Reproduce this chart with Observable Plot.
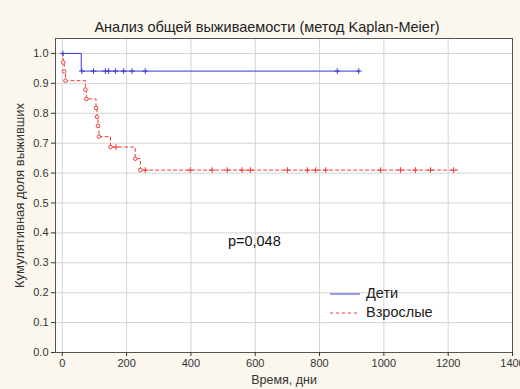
<!DOCTYPE html>
<html><head><meta charset="utf-8">
<script src="https://cdn.jsdelivr.net/npm/d3@7"></script>
<script src="https://cdn.jsdelivr.net/npm/@observablehq/plot@0.6"></script>
<style>
body{margin:0;background:#fbf7ef;font-family:"Liberation Sans",Arial,sans-serif}
#c{position:relative;width:520px;height:389px}
#legend{position:absolute;left:330px;top:284px;font-size:14.5px;color:#222;line-height:19px}
#legend div{display:flex;align-items:center}
#legend svg{margin-right:6px}
</style>
</head><body>
<div id="c"><div id="legend"></div></div>
<script>
const title = "Анализ общей выживаемости (метод Kaplan-Meier)";
const xLabel = "Время, дни";
const yLabel = "Кумулятивная доля выживших";
const seriesNames = ["Дети", "Взрослые"];
const xTicks = [0, 200, 400, 600, 800, 1000, 1200, 1400];
const yTicks = [0, 0.1, 0.2, 0.3, 0.4, 0.5, 0.6, 0.7, 0.8, 0.9, 1.0];

const childStepTimes = [0, 59, 925];
const childStepSurv = [1.0, 0.941, 0.941];
const childCensorTimes = [2, 61, 97, 134, 144, 165, 191, 217, 258, 855, 922];

const adultStepTimes = [0, 3, 6, 10, 72, 75, 105, 108, 111, 114, 150, 227, 243, 1229];
const adultStepSurv = [1.0, 0.97, 0.94, 0.909, 0.879, 0.848, 0.818, 0.788, 0.758, 0.722, 0.687, 0.648, 0.61, 0.61];
const adultCensorTimes = [167, 258, 398, 466, 513, 559, 585, 700, 762, 788, 819, 990, 1052, 1098, 1145, 1217];

const annotation = [{t: 515, s: 0.37, text: "p=0,048"}];

const colors = {"Дети": "#3a3acf", "Взрослые": "#ef3b3b"};

function steps(times, surv, group) {
  return times.map((t, i) => ({t, s: surv[i], group}));
}
function survAt(times, surv, t) {
  let s = surv[0];
  for (let i = 0; i < times.length; i++) if (times[i] <= t) s = surv[i];
  return s;
}
const childSteps = steps(childStepTimes, childStepSurv, seriesNames[0]);
const adultSteps = steps(adultStepTimes, adultStepSurv, seriesNames[1]);
const childCens = childCensorTimes.map(t => ({t, s: survAt(childStepTimes, childStepSurv, t)}));
const adultCens = adultCensorTimes.map(t => ({t, s: survAt(adultStepTimes, adultStepSurv, t)}));
const adultEvents = adultSteps.slice(1, -1);

const chart = Plot.plot({
  width: 520, height: 389,
  marginLeft: 55, marginRight: 8, marginTop: 38, marginBottom: 37,
  style: {background: "transparent", fontFamily: "Liberation Sans, Arial, sans-serif", fontSize: "11px", color: "#333"},
  x: {domain: [-21, 1400]},
  y: {domain: [0, 1.05]},
  marks: [
    Plot.frame({fill: "white"}),
    Plot.gridX(xTicks, {stroke: "#d4d4d4", strokeOpacity: 1}),
    Plot.gridY(yTicks, {stroke: "#d4d4d4", strokeOpacity: 1}),
    Plot.frame({stroke: "#555"}),
    Plot.axisX(xTicks, {tickSize: 4, tickPadding: 3, tickFormat: d3.format("d"), fontSize: 11, label: null}),
    Plot.axisY(yTicks, {tickSize: 4, tickPadding: 3, tickFormat: d3.format(".1f"), fontSize: 11, label: null}),
    Plot.text([xLabel], {frameAnchor: "bottom", dy: 31, fontSize: 12.5, fill: "#333"}),
    Plot.text([yLabel], {frameAnchor: "left", dx: -36, rotate: -90, textAnchor: "middle", fontSize: 13, fill: "#333"}),
    Plot.line(childSteps, {x: "t", y: "s", curve: "step-after", stroke: colors["Дети"], strokeWidth: 1}),
    Plot.line(adultSteps, {x: "t", y: "s", curve: "step-after", stroke: colors["Взрослые"], strokeWidth: 1, strokeDasharray: "3,3"}),
    Plot.dot(childCens, {x: "t", y: "s", symbol: "plus", r: 2, stroke: colors["Дети"], strokeWidth: 1}),
    Plot.dot(adultCens, {x: "t", y: "s", symbol: "plus", r: 2, stroke: colors["Взрослые"], strokeWidth: 1}),
    Plot.dot(adultEvents, {x: "t", y: "s", r: 1.8, stroke: colors["Взрослые"], fill: "white", strokeWidth: 1}),
    Plot.text(annotation, {x: "t", y: "s", text: "text", textAnchor: "start", fontSize: 14.5, fill: "#111"}),
    Plot.text([title], {frameAnchor: "top", dx: -17, dy: -17, fontSize: 14.5, fill: "#222"})
  ]
});
document.getElementById("c").prepend(chart);

const legend = document.getElementById("legend");
seriesNames.forEach((name, i) => {
  const row = document.createElement("div");
  row.innerHTML = `<svg width="30" height="6"><line x1="0" x2="30" y1="3" y2="3" stroke="${colors[name]}" stroke-width="1" ${i ? 'stroke-dasharray="3,3"' : ''}/></svg><span>${name}</span>`;
  legend.appendChild(row);
});
</script>
</body></html>
